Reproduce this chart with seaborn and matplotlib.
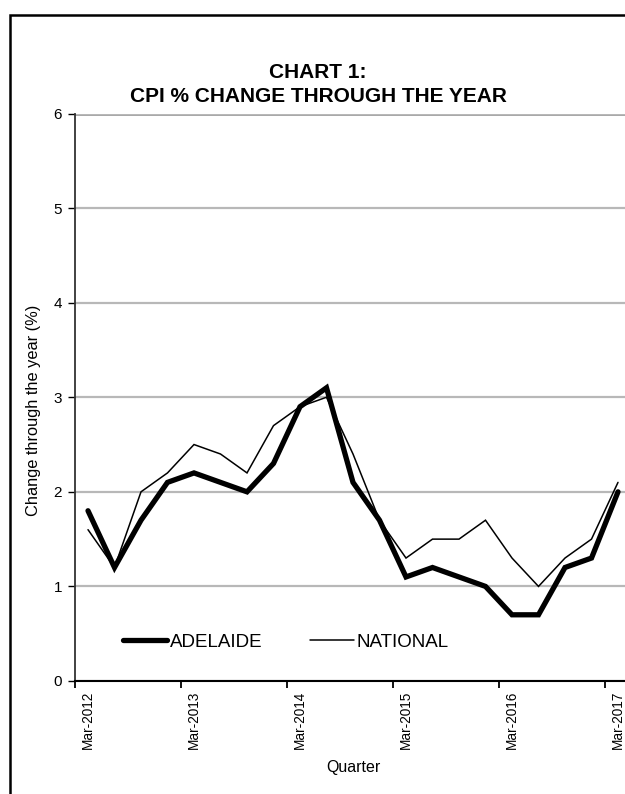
import matplotlib
matplotlib.use("Agg")
import matplotlib.pyplot as plt
import seaborn as sns
import pandas as pd
from matplotlib.patches import Rectangle

quarters = ["Mar-2012", "Jun-2012", "Sep-2012", "Dec-2012",
            "Mar-2013", "Jun-2013", "Sep-2013", "Dec-2013",
            "Mar-2014", "Jun-2014", "Sep-2014", "Dec-2014",
            "Mar-2015", "Jun-2015", "Sep-2015", "Dec-2015",
            "Mar-2016", "Jun-2016", "Sep-2016", "Dec-2016",
            "Mar-2017"]
adelaide = [1.8, 1.2, 1.7, 2.1, 2.2, 2.1, 2.0, 2.3, 2.9, 3.1, 2.1, 1.7,
            1.1, 1.2, 1.1, 1.0, 0.7, 0.7, 1.2, 1.3, 2.0]
national = [1.6, 1.2, 2.0, 2.2, 2.5, 2.4, 2.2, 2.7, 2.9, 3.0, 2.4, 1.7,
            1.3, 1.5, 1.5, 1.7, 1.3, 1.0, 1.3, 1.5, 2.1]
y_ticks = [0, 1, 2, 3, 4, 5, 6]

sns.set_theme(style="white")
plt.rcParams['font.family'] = ['Liberation Sans', 'DejaVu Sans']
plt.rcParams['text.color'] = 'black'
plt.rcParams['axes.labelcolor'] = 'black'
plt.rcParams['xtick.color'] = 'black'
plt.rcParams['ytick.color'] = 'black'

W, H = 625, 794
fig = plt.figure(figsize=(W / 100, H / 100), dpi=100)

# outer chart border
fig.patches.append(Rectangle((9.5 / W, -0.1), 1.2, 1 - 14.5 / H + 0.1,
                             transform=fig.transFigure, fill=False,
                             edgecolor="black", linewidth=1.8))

left, right, top, bottom = 74.75, 631.25, 113.5, 681
ax = fig.add_axes([left / W, 1 - bottom / H, (right - left) / W, (bottom - top) / H])

idx = list(range(len(quarters)))
df = pd.DataFrame({"i": idx + idx,
                   "val": adelaide + national,
                   "series": ["ADELAIDE"] * len(idx) + ["NATIONAL"] * len(idx)})

sns.lineplot(data=df, x="i", y="val", hue="series", size="series",
             sizes={"ADELAIDE": 3.8, "NATIONAL": 1.1},
             palette={"ADELAIDE": "black", "NATIONAL": "black"},
             ax=ax, legend=True)
for ln in ax.lines:
    ln.set_solid_joinstyle("miter")

ax.set_xlim(-0.5, len(quarters) - 0.5)
ax.set_ylim(0, 6)
ax.set_yticks(y_ticks)
ax.set_yticklabels([str(v) for v in y_ticks], fontsize=11)
ax.yaxis.grid(True, color="#b8b8b8", linewidth=1.6)
ax.set_axisbelow(True)
ax.axhline(6, color="#8c8c8c", linewidth=1.8, zorder=0.5)

major = [k - 0.5 for k in range(0, len(quarters), 4)]
ax.set_xticks(major)
ax.set_xticklabels([""] * len(major))
ax.set_xticks(list(range(0, len(quarters), 4)), minor=True)
ax.set_xticklabels([quarters[k] for k in range(0, len(quarters), 4)], minor=True,
                   rotation=90, fontsize=9.8)
ax.tick_params(axis="x", which="major", direction="out", length=5, width=1.3,
               color="black", bottom=True)
ax.tick_params(axis="x", which="minor", length=0, pad=7, bottom=True)
ax.tick_params(axis="y", direction="out", length=5, width=1.0, color="black",
               left=True, pad=4)

for s in ["top", "right"]:
    ax.spines[s].set_visible(False)
ax.spines["left"].set_color("#333333")
ax.spines["left"].set_linewidth(1.3)
ax.spines["bottom"].set_color("black")
ax.spines["bottom"].set_linewidth(1.5)

ax.set_xlabel("Quarter", fontsize=11.5, labelpad=8)
ax.set_ylabel("Change through the year (%)", fontsize=11.8)
ax.yaxis.set_label_coords(-0.06, (bottom - 410) / (bottom - top))

leg = ax.legend(loc="center left",
                bbox_to_anchor=((123 - left) / (right - left), (bottom - 642) / (bottom - top)),
                borderaxespad=0, borderpad=0, ncol=2, frameon=False,
                fontsize=13.5, handlelength=2.35, handletextpad=0.16, columnspacing=2.5)
for h in leg.get_lines():
    h.set_solid_capstyle("round")

fig.text(318 / W, 1 - 73 / H, "CHART 1:", ha="center", va="center",
         fontsize=15, fontweight="bold")
fig.text(318 / W, 1 - 97 / H, "CPI % CHANGE THROUGH THE YEAR", ha="center",
         va="center", fontsize=15, fontweight="bold")

fig.savefig("out.png", dpi=100)
